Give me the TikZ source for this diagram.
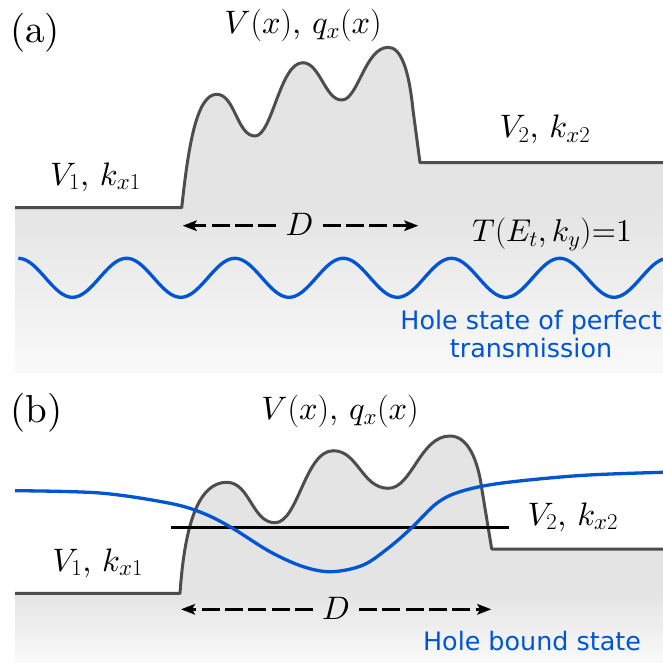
\RequirePackage{fix-cm}
\documentclass[tikz,border=0pt]{standalone}
\usepackage{fontspec}
\setmainfont{lmroman10-regular.otf}[BoldFont=lmroman10-bold.otf,ItalicFont=lmroman10-italic.otf]
\DeclareFontShape{OML}{cmm}{m}{it}{<->cmmi10}{}
\newfontfamily\dejavu{DejaVu Sans}
\usetikzlibrary{arrows.meta}
\definecolor{potgray}{HTML}{4D4D4D}
\definecolor{fillgray}{HTML}{E4E4E4}
\definecolor{fadewhite}{HTML}{F9F9F9}
\definecolor{holeblue}{HTML}{0055D4}
\begin{document}
\begin{tikzpicture}[x=1pt,y=-1pt,
  pot/.style={draw=potgray,line width=3pt,line join=round},
  holewave/.style={draw=holeblue,line width=3.3pt},
  levelline/.style={draw=black,line width=2.6pt},
  mlab/.style={font=\fontsize{32.5}{38}\selectfont,inner sep=0pt,anchor=base},
  plab/.style={font=\fontsize{39}{46}\selectfont,inner sep=0pt,anchor=base west},
  btext/.style={font=\dejavu\fontsize{25.4}{28.4}\selectfont,text=holeblue,inner sep=0pt,align=center},
  darr/.style={line width=3.1pt,dash pattern=on 18pt off 5.3pt,-{Stealth[length=14pt,width=10.5pt,inset=3pt]}},
  dlab/.style={font=\fontsize{32.5}{38}\selectfont,inner ysep=0pt,inner xsep=9pt,anchor=base},
]
\useasboundingbox (0,0) rectangle (663,662);

% ---------- panel (a) ----------
\def\potA{(15,207.7) -- (181.7,207.7) .. controls (188,150) and (196,94.3) .. (216.7,94.3)
  .. controls (235,94.3) and (237,136) .. (255,136)
  .. controls (272,136) and (280,62.7) .. (302.7,62.7)
  .. controls (320,62.7) and (325,100) .. (341.7,100)
  .. controls (358,100) and (365,47.3) .. (388.3,47.3)
  .. controls (401,47.3) and (409,70) .. (413,110) -- (420,162.7) -- (663,162.7)}
\begin{scope}
  \clip \potA -- (663,372.7) -- (15,372.7) -- cycle;
  \fill[fillgray] (0,0) rectangle (663,380);
  \shade[top color=fillgray,bottom color=fadewhite] (15,207.7) rectangle (663,372.7);
\end{scope}
\draw[pot] \potA;

\draw[holewave] plot[domain=18.3:663,samples=260,smooth] (\x,{277.8-19.5*cos(3.3241*(\x-18.3))});

\node[plab] (pa) at (10,42) {(a)};
\node[mlab] (vqa) at (303,33.3) {$V(x)$, $q_x(x)$};
\node[mlab] (v1a) at (95.5,185) {$V_1$, $k_{x1}$};
\node[mlab] (v2a) at (545,137.7) {$V_2$, $k_{x2}$};
\node[mlab,font=\fontsize{31.5}{38}\selectfont] (ta) at (552,241.7) {$T(E_t,k_y)$=1};
\node[dlab] (da) at (299.5,235.7) {$D$};
\coordinate (aL) at (182.7,225.7);
\coordinate (aR) at (418.3,225.7);
\draw[darr] (aL -| da.west) -- (aL);
\draw[darr] (aR -| da.east) -- (aR);
\node[btext,anchor=north] (ha) at (531,309.5) {Hole state of perfect\\transmission};

% ---------- panel (b) ----------
\def\potB{(15,593.3) -- (180,593.3) .. controls (185,520) and (200,482.3) .. (226.7,482.3)
  .. controls (250,482.3) and (252,522.7) .. (275,522.7)
  .. controls (298,522.7) and (305,450.7) .. (333.3,450.7)
  .. controls (358,450.7) and (362,488.3) .. (388.3,488.3)
  .. controls (412,488.3) and (420,436) .. (450,436)
  .. controls (468,436) and (478,460) .. (482,490) -- (491.7,549) -- (663,549)}
\begin{scope}
  \clip \potB -- (663,661.5) -- (15,661.5) -- cycle;
  \fill[fillgray] (0,400) rectangle (663,662);
  \shade[top color=fillgray,bottom color=fadewhite] (15,593.3) rectangle (663,661.5);
\end{scope}
\draw[pot] \potB;

\coordinate (lL) at (171,527.7);
\coordinate (lR) at (509,527.7);
\draw[levelline] (lL) -- (lR);

\draw[holewave] plot[smooth,tension=0.55] coordinates {(15,490.7) (100,493) (170,503.3) (203.3,513.3) (231.7,527.7) (270,551.7) (303.3,566.7) (331.7,571.7) (363.3,565) (390,546.7) (411.7,527.7) (436.7,503.3) (460,491.7) (500,483.3) (580,475.5) (663,472.3)};

\node[plab] (pb) at (10,422.5) {(b)};
\node[mlab] (vqb) at (340,419.3) {$V(x)$, $q_x(x)$};
\node[mlab] (v1b) at (97.8,571) {$V_1$, $k_{x1}$};
\node[mlab] (v2b) at (572.8,525) {$V_2$, $k_{x2}$};
\node[dlab] (db) at (336,619.5) {$D$};
\coordinate (bL) at (181,609.3);
\coordinate (bR) at (491.3,609.3);
\draw[darr] (bL -| db.west) -- (bL);
\draw[darr] (bR -| db.east) -- (bR);
\node[btext,anchor=base] (hb) at (532,650) {Hole bound state};
\end{tikzpicture}
\end{document}
